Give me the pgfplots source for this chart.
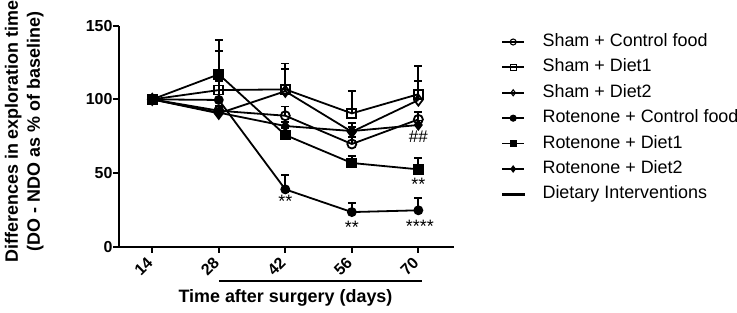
\documentclass[border=0pt]{standalone}
\usepackage{fontspec}
\setmainfont{Liberation Sans}
\usepackage{pgfplots}
\pgfplotsset{compat=1.18}
\usepackage{pgfplotstable}

\pgfplotstableread{
x y e
14 100 0
28 92.3 3
42 88.9 6.2
56 69.7 5
70 86.4 5
}\shamctrl
\pgfplotstableread{
x y e
14 100 0
28 106.3 26.7
42 106.8 17.5
56 90.5 15
70 103.5 19
}\shamdone
\pgfplotstableread{
x y e
14 100 0
28 90.5 3
42 105.5 15.3
56 78 6
70 99.5 13
}\shamdtwo
\pgfplotstableread{
x y e
14 100 0
28 99.6 12.8
42 38.9 9.6
56 23.5 6
70 24.7 8.6
}\rotctrl
\pgfplotstableread{
x y e
14 100 0
28 117 23.2
42 75.8 5
56 56.8 5
70 52.5 7.5
}\rotdone
\pgfplotstableread{
x y e
14 100 0
28 91 2
42 81.9 3
56 78.5 3
70 82.6 3
}\rotdtwo

\begin{document}
\begin{tikzpicture}
\begin{axis}[
  scale only axis, width=335bp, height=221bp,
  xmin=7, xmax=77.5, ymin=0, ymax=150,
  axis lines=left, axis line style={-, line width=2bp},
  xtick={14,28,42,56,70}, ytick={0,50,100,150},
  tick align=outside, major tick length=6bp,
  tick style={line width=1.8bp, black},
  clip=false,
  /pgf/number format/assume math mode=true,
  xticklabel shift=5bp,
  xticklabel style={rotate=45, anchor=east, font=\bfseries\fontsize{16}{16}\selectfont},
  yticklabel style={xshift=3bp, font=\bfseries\fontsize{16}{16}\selectfont},
  ylabel={Differences in exploration time\\(DO - NDO as \% of baseline)},
  ylabel style={align=center, font=\bfseries\fontsize{18}{22}\selectfont,
    at={(axis description cs:-0.283,0.521)}, anchor=center},
  xlabel={Time after surgery (days)},
  xlabel style={font=\bfseries\fontsize{18}{22}\selectfont,
    at={(axis description cs:0.497,-0.232)}, anchor=center},
  legend cell align=left,
  legend style={at={(axis description cs:1.139,0.965)}, anchor=north west,
    draw=none, fill=none, inner sep=0pt,
    font=\fontsize{18}{18}\selectfont, row sep=8.7bp,
    nodes={inner sep=0pt, text height=12.9bp, text depth=3.8bp},
    /tikz/every odd column/.append style={column sep=16bp}},
  legend image code/.code={\draw[mark repeat=2, mark phase=2, mark size=3bp,
    mark options={line width=1.1bp}]
    plot coordinates {(0bp,0bp) (11bp,0bp) (22bp,0bp)};},
  every axis plot/.append style={black, line width=1.8bp,
    error bars/y dir=plus, error bars/y explicit,
    error bars/error bar style={line width=1.8bp},
    error bars/error mark options={rotate=90, mark size=4bp, line width=1.8bp}},
]
\addplot[mark=o, mark size=4.5bp] table[x=x,y=y,y error=e]{\shamctrl};
\addlegendentry{Sham + Control food}
\addplot[mark=square, mark size=4.5bp] table[x=x,y=y,y error=e]{\shamdone};
\addlegendentry{Sham + Diet1}
\addplot[mark=diamond, mark size=5.5bp] table[x=x,y=y,y error=e]{\shamdtwo};
\addlegendentry{Sham + Diet2}
\addplot[mark=*, mark size=4bp] table[x=x,y=y,y error=e]{\rotctrl};
\addlegendentry{Rotenone + Control food}
\addplot[mark=square*, mark size=4.5bp] table[x=x,y=y,y error=e]{\rotdone};
\addlegendentry{Rotenone + Diet1}
\addplot[mark=diamond*, mark size=4.5bp] table[x=x,y=y,y error=e]{\rotdtwo};
\addlegendentry{Rotenone + Diet2}
\addlegendimage{legend image code/.code={\draw[line width=2.8bp] (0bp,0bp)--(23bp,0bp);}}
\addlegendentry{Dietary Interventions}

\draw[line width=2.5bp] (axis cs:28,-23.3) -- (axis cs:70.8,-23.3);

\node[font=\fontsize{18}{18}\selectfont, anchor=base] at (axis cs:42,26.9) {**};
\node[font=\fontsize{18}{18}\selectfont, anchor=base] at (axis cs:56,8.8) {**};
\node[font=\fontsize{18}{18}\selectfont, anchor=base] at (axis cs:70.3,9.5) {****};
\node[font=\fontsize{18}{18}\selectfont, anchor=base] at (axis cs:70,38.2) {**};
\node[font=\fontsize{17}{17}\selectfont, anchor=base] at (axis cs:70,70.5) {\#\#};
\end{axis}
\pgfresetboundingbox
\useasboundingbox (-119bp,-66.3bp) rectangle (618bp,246.7bp);
\end{tikzpicture}
\end{document}
